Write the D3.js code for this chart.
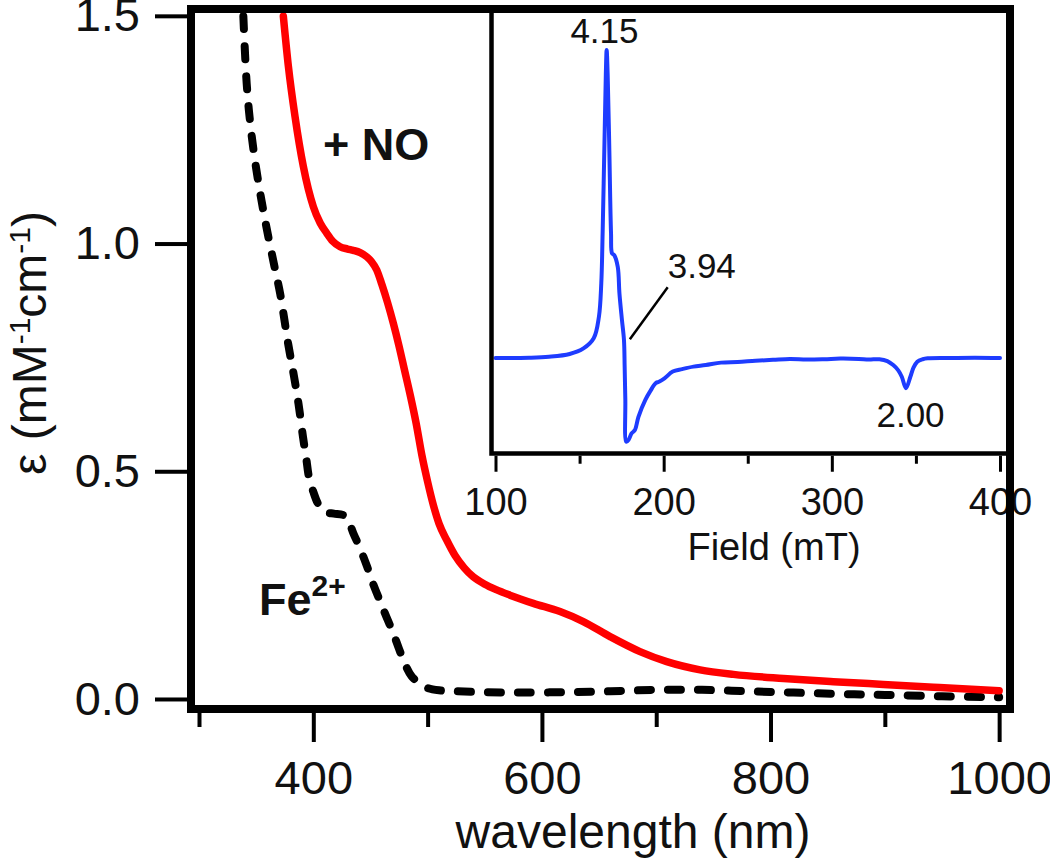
<!DOCTYPE html>
<html><head><meta charset="utf-8">
<script src="https://cdn.jsdelivr.net/npm/d3@7"></script>
<style>
body{margin:0;background:#fff}
svg{display:block}
text{font-family:"Liberation Sans",Arial,Helvetica,sans-serif;fill:#111}
</style>
</head><body>
<svg id="chart" width="1050" height="864"></svg>
<script>
// ---- Data ----
const feWavelength = [338.8,341.7,345,350,355,360,366,371,378,383,387,391,394,396,400,405,411,418,426,430,435,441,447,452,458,464,470,475,480,486,493,500,510,525,550,580,620,660,700,740,780,820,860,900,950,1000];
const feEpsilon    = [1.499,1.352,1.26,1.165,1.09,1.023,0.95,0.89,0.78,0.71,0.649,0.575,0.525,0.49,0.455,0.425,0.41,0.407,0.404,0.395,0.364,0.33,0.291,0.255,0.217,0.18,0.144,0.11,0.078,0.05,0.034,0.024,0.019,0.017,0.015,0.014,0.015,0.017,0.02,0.02,0.017,0.014,0.011,0.009,0.006,0.004];

const noWavelength = [373.8,378.2,384,391.3,400,406,411.7,417,423.4,430,435,441,446.7,451,455.5,460,465,470,475,480,485,490,495,500,505,510,516.7,524,532,540,550,560,572,592.5,615.8,636.2,659.6,685.8,709.2,738.4,767.5,811.3,855,898.7,942.5,1000];
const noEpsilon    = [1.499,1.389,1.279,1.169,1.081,1.045,1.023,1.005,0.993,0.988,0.985,0.98,0.971,0.96,0.942,0.91,0.87,0.825,0.775,0.72,0.665,0.605,0.535,0.477,0.426,0.385,0.349,0.315,0.288,0.268,0.252,0.24,0.228,0.21,0.192,0.17,0.137,0.104,0.082,0.064,0.054,0.045,0.038,0.032,0.026,0.018];

const eprField  = [100,120,131.8,144.1,152.3,158.4,161.5,162.9,163.7,164.8,165.6,166.1,166.7,167.6,168.7,169.3,170.6,172.7,173.7,175.2,176.4,176.8,177.2,177.8,179.2,180.9,182.9,185,189.1,192,195.2,197.2,200.5,205.4,211,217.7,225,234.1,244,254.6,265,275.1,285,295.5,305,316,322,328.3,333,336.5,339.5,341.6,344.1,346.7,348.5,350.8,354,357,370,385,400];
const eprSignal = [0,0.1,0.4,1.3,3.1,6.4,13.4,24.2,40.5,70,92,100,92,70,40.5,34,33.4,29.6,21,12.3,5.8,-2.8,-13.6,-27.2,-26.5,-24.5,-23.4,-19.1,-13.6,-10.8,-8.2,-7.7,-6.6,-4.4,-3.6,-2.8,-2.3,-1.5,-1.3,-0.9,-0.6,-0.3,-0.5,-0.4,-0.2,-0.3,-0.5,-0.4,-1.0,-2.3,-4.0,-6.1,-9.8,-6.1,-3.2,-1.2,-0.4,-0.1,0,0.1,0];

const xMajorTicks = [400,600,800,1000];
const xMinorTicks = [300,500,700,900];
const yTicks = [0,0.5,1.0,1.5];
const insetMajorTicks = [100,200,300,400];
const insetMinorTicks = [150,250,350];

// ---- Scales ----
const svg = d3.select("#chart");
const x = d3.scaleLinear().domain([293,1009.5]).range([191,1010]);
const y = d3.scaleLinear().domain([-0.022,1.515]).range([709,9]);
const xI = d3.scaleLinear().domain([100,400]).range([495.5,1000]);
const yI = d3.scaleLinear().domain([0,100]).range([358,50]);

const frameL = x.range()[0], frameR = x.range()[1], frameT = y.range()[1], frameB = y.range()[0];

// ---- Curves ----
svg.append("path")
  .datum(feWavelength.map((w,i)=>[w,feEpsilon[i]]))
  .attr("d", d3.line().x(d=>x(d[0])).y(d=>y(d[1])).curve(d3.curveCatmullRom.alpha(0.5)))
  .attr("fill","none").attr("stroke","#000").attr("stroke-width",8)
  .attr("stroke-dasharray","13,17").attr("stroke-linecap","round");
svg.append("path")
  .datum(noWavelength.map((w,i)=>[w,noEpsilon[i]]))
  .attr("d", d3.line().x(d=>x(d[0])).y(d=>y(d[1])).curve(d3.curveMonotoneX))
  .attr("fill","none").attr("stroke","#ff0000").attr("stroke-width",7.5)
  .attr("stroke-linecap","round").attr("stroke-linejoin","round");

// ---- EPR inset ----
svg.append("path")
  .datum(eprField.map((f,i)=>[f,eprSignal[i]]))
  .attr("d", d3.line().x(d=>xI(d[0])).y(d=>yI(d[1])).curve(d3.curveCatmullRom.alpha(0.5)))
  .attr("fill","none").attr("stroke","#1e3cff").attr("stroke-width",4)
  .attr("stroke-linejoin","round").attr("stroke-linecap","round");

const insetL = xI(100) - 4, insetB = 453.5;
svg.append("path")
  .attr("d", `M${insetL},${frameT} V${insetB} H${frameR}`)
  .attr("fill","none").attr("stroke","#000").attr("stroke-width",4.5);

const insetAxisY = insetB + 2.25;
const gIM = svg.append("g").attr("transform",`translate(0,${insetAxisY})`)
  .call(d3.axisBottom(xI).tickValues(insetMajorTicks).tickSize(16).tickPadding(16.5).tickFormat(d3.format("d")));
const gIm = svg.append("g").attr("transform",`translate(0,${insetAxisY})`)
  .call(d3.axisBottom(xI).tickValues(insetMinorTicks).tickSize(8).tickFormat(""));
[gIM,gIm].forEach(g=>{
  g.select(".domain").remove();
  g.selectAll("line").attr("stroke","#000").attr("stroke-width",3);
  g.selectAll("text").attr("font-size",38).attr("fill","#111")
    .attr("font-family","'Liberation Sans',Arial,sans-serif");
});
svg.append("text").attr("x",774).attr("y",560).attr("text-anchor","middle")
  .attr("font-size",38).text("Field (mT)");

// annotations
svg.append("text").attr("x",xI(164.8)).attr("y",yI(102.2)).attr("text-anchor","middle").attr("font-size",35).text("4.15");
svg.append("text").attr("x",xI(202.4)).attr("y",yI(25.9)).attr("text-anchor","start").attr("font-size",35).text("3.94");
svg.append("text").attr("x",xI(346.8)).attr("y",yI(-22.3)).attr("text-anchor","middle").attr("font-size",35).text("2.00");
svg.append("line").attr("x1",xI(202.4)).attr("y1",yI(23.0)).attr("x2",xI(179.9)).attr("y2",yI(6.1))
  .attr("stroke","#000").attr("stroke-width",2.5);

// ---- Main frame ----
svg.append("rect").attr("x",frameL).attr("y",frameT)
  .attr("width",frameR-frameL).attr("height",frameB-frameT)
  .attr("fill","none").attr("stroke","#000").attr("stroke-width",8);

// ---- Main axes ----
const xAxisY = frameB + 4;
const gxM = svg.append("g").attr("transform",`translate(0,${xAxisY})`)
  .call(d3.axisBottom(x).tickValues(xMajorTicks).tickSize(29).tickPadding(18.5).tickFormat(d3.format("d")));
const gxm = svg.append("g").attr("transform",`translate(0,${xAxisY})`)
  .call(d3.axisBottom(x).tickValues(xMinorTicks).tickSize(14).tickFormat(""));
const yAxisX = frameL - 4;
const gy = svg.append("g").attr("transform",`translate(${yAxisX},0)`)
  .call(d3.axisLeft(y).tickValues(yTicks).tickSize(32).tickPadding(15).tickFormat(d3.format(".1f")));
[gxM,gxm,gy].forEach(g=>{
  g.select(".domain").remove();
  g.selectAll("line").attr("stroke","#000").attr("stroke-width",4);
  g.selectAll("text").attr("font-size",47).attr("fill","#111")
    .attr("font-family","'Liberation Sans',Arial,sans-serif");
});

// axis titles
svg.append("text").attr("x",633).attr("y",848).attr("text-anchor","middle")
  .attr("font-size",48).text("wavelength (nm)");

const yt = svg.append("text").attr("transform","translate(46,343) rotate(-90)")
  .attr("text-anchor","middle").attr("font-size",48);
yt.append("tspan").text("ε (mM");
yt.append("tspan").attr("font-size",30).attr("dy",-16).text("-1");
yt.append("tspan").attr("dy",16).text("cm");
yt.append("tspan").attr("font-size",30).attr("dy",-16).text("-1");
yt.append("tspan").attr("dy",16).text(")");

// ---- Series labels ----
svg.append("text").attr("x",323).attr("y",160).attr("font-size",45).attr("font-weight","bold").text("+ NO");
const fe = svg.append("text").attr("x",259).attr("y",615).attr("font-size",45).attr("font-weight","bold");
fe.append("tspan").text("Fe");
fe.append("tspan").attr("font-size",30).attr("dy",-19).text("2+");
</script>
</body></html>
